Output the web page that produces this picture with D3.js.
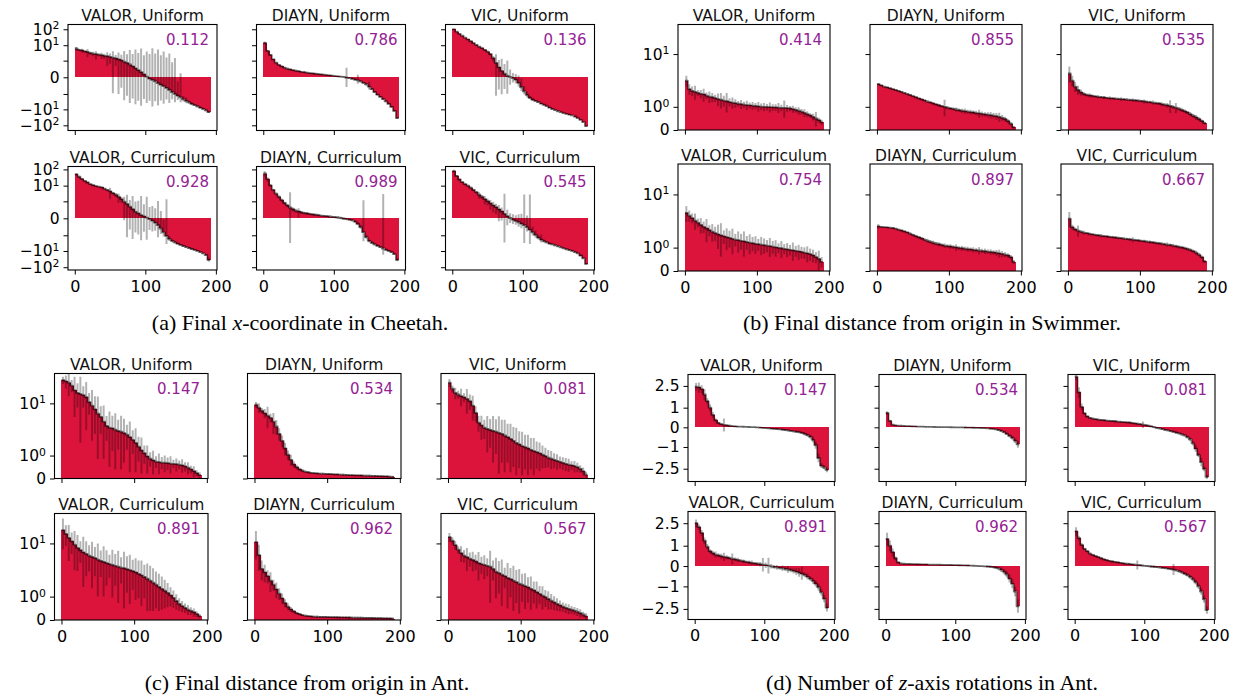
<!DOCTYPE html>
<html>
<head>
<meta charset="utf-8">
<script src="https://cdn.jsdelivr.net/npm/d3@7"></script>
<style>
  html, body { margin: 0; padding: 0; background: #fff; }
  svg { display: block; }
</style>
</head>
<body>
<svg id="fig" width="1236" height="695"></svg>
<script>
// ---------------------------------------------------------------------------
// Data: per-context outcome, sorted from largest to smallest, sampled every
// 4th context (192 contexts), with the spread across seeds for each sample.
// ---------------------------------------------------------------------------
const STEP = 4;
const sampleIndex = d3.range(0, 192, STEP);
const methods = ["VALOR", "DIAYN", "VIC"];
const regimes = ["Uniform", "Curriculum"];
const xTicks = [0, 100, 200];

// (a) Final x-coordinate in Cheetah
const cheetahValorUniform = [6.2, 5.1, 4.7, 4.1, 3.7, 3.2, 2.9, 2.7, 2.5, 2.3, 2.1, 2.0, 1.8, 1.6, 1.4, 1.2, 1.05, 0.85, 0.69, 0.53, 0.38, 0.26, 0.18, 0.11, 0.05, 0.01, -0.02, -0.045, -0.08, -0.13, -0.19, -0.26, -0.36, -0.5, -0.73, -1.0, -1.28, -1.72, -2.3, -2.9, -3.6, -4.5, -5.4, -6.5, -7.8, -9.4, -11.4, -15];
const cheetahValorUniformErr = [1.5, 0.8, 1.2, 0.6, 2.0, 0.7, 0.9, 1.5, 0.6, 1.0, 0.8, 1.6, 1.2, 2.5, 1.0, 2.2, 1.4, 3.5, 2.0, 4.5, 2.4, 5.0, 3.0, 6.0, 2.2, 4.0, 2.8, 6.5, 3.0, 5.5, 2.5, 4.2, 2.0, 3.5, 1.5, 2.5, 1.2, 1.8, 0.9, 1.2, 0.8, 1.0, 0.7, 1.2, 0.9, 1.1, 1.5, 1.8];
const cheetahDiaynUniform = [14, 4.4, 2.4, 1.2, 0.73, 0.5, 0.38, 0.3, 0.25, 0.21, 0.18, 0.16, 0.14, 0.12, 0.11, 0.095, 0.082, 0.074, 0.066, 0.058, 0.051, 0.045, 0.038, 0.032, 0.026, 0.02, 0.015, 0.01, 0.005, -0.005, -0.012, -0.023, -0.038, -0.055, -0.082, -0.12, -0.18, -0.28, -0.45, -0.73, -1.1, -1.56, -2.2, -3.1, -4.5, -7.0, -12.5, -35];
const cheetahDiaynUniformErr = [3, 0.8, 0.3, 0.15, 0.08, 0.06, 0.05, 0.04, 0.05, 0.03, 0.03, 0.04, 0.03, 0.02, 0.03, 0.02, 0.02, 0.02, 0.02, 0.02, 0.015, 0.015, 0.015, 0.01, 0.01, 0.01, 0.01, 0.01, 0.01, 0.3, 0.01, 0.015, 0.02, 0.1, 0.03, 0.03, 0.05, 0.2, 0.08, 0.1, 0.15, 0.2, 0.3, 0.4, 0.5, 0.8, 1.5, 4];
const cheetahVicUniform = [100, 71, 52, 40, 30, 23, 17.8, 13.4, 10.4, 8.2, 6.5, 5.1, 3.9, 2.7, 1.48, 0.69, 0.32, 0.15, 0.066, 0.026, 0.005, -0.012, -0.041, -0.12, -0.32, -0.66, -1.16, -1.8, -2.4, -2.9, -3.5, -4.3, -5.1, -6.2, -7.8, -9.5, -11.1, -13.1, -15, -17.3, -19.4, -21.3, -23.9, -28.1, -35.4, -45.6, -63, -112];
const cheetahVicUniformErr = [10, 5, 4, 3, 2, 2, 1.5, 1.2, 1, 0.8, 0.8, 0.6, 0.6, 0.5, 0.6, 2.0, 0.8, 1.2, 0.5, 1.0, 0.2, 0.1, 0.1, 0.15, 0.3, 0.4, 0.5, 0.4, 0.5, 0.4, 0.4, 0.3, 0.4, 0.3, 0.5, 0.5, 0.6, 0.6, 0.5, 0.6, 0.6, 0.8, 0.8, 1, 1.2, 1.5, 2, 5];
const cheetahValorCurriculum = [50, 35.4, 26.2, 19.9, 15.7, 12.5, 10.6, 9.4, 8.8, 7.8, 6.5, 5.4, 4.4, 3.4, 2.7, 2.0, 1.41, 0.97, 0.66, 0.42, 0.26, 0.16, 0.1, 0.058, 0.032, 0.01, -0.012, -0.038, -0.082, -0.163, -0.32, -0.62, -1.1, -1.72, -2.3, -2.9, -3.5, -4.2, -4.9, -5.7, -6.5, -7.5, -8.6, -9.9, -11.6, -14.0, -17.7, -35.4];
const cheetahValorCurriculumErr = [8, 5, 3, 2, 1.5, 1.2, 1, 0.8, 0.8, 0.8, 0.6, 0.8, 3, 0.6, 0.8, 1.2, 0.6, 1.0, 2.0, 0.8, 2.0, 0.8, 1.0, 2.2, 0.6, 2.0, 0.4, 0.5, 0.4, 1.2, 0.5, 0.6, 2.5, 0.6, 0.5, 0.5, 0.6, 0.6, 0.5, 0.5, 0.6, 0.6, 0.8, 0.8, 1, 1, 1.5, 10];
const cheetahDiaynCurriculum = [56, 25, 10.4, 5.5, 3.2, 2.0, 1.22, 0.77, 0.53, 0.36, 0.26, 0.2, 0.163, 0.134, 0.114, 0.1, 0.086, 0.074, 0.066, 0.058, 0.048, 0.041, 0.035, 0.029, 0.023, 0.017, 0.012, 0.005, -0.005, -0.012, -0.02, -0.032, -0.058, -0.12, -0.25, -0.61, -1.31, -2.3, -3.06, -3.9, -4.7, -5.7, -7.0, -8.4, -9.9, -11.9, -15.7, -35.4];
const cheetahDiaynCurriculumErr = [20, 8, 2, 1, 0.6, 0.4, 0.3, 0.2, 0.15, 3.5, 0.1, 0.08, 0.15, 0.05, 0.04, 0.04, 0.03, 0.03, 0.03, 0.03, 0.02, 0.02, 0.02, 0.02, 0.02, 0.02, 0.02, 0.02, 0.02, 0.02, 0.02, 0.02, 0.02, 0.05, 0.1, 1.8, 0.4, 0.5, 0.5, 0.6, 0.6, 0.8, 10, 1, 1.2, 1.5, 2, 8];
const cheetahVicCurriculum = [79, 40, 24, 16.5, 12.5, 9.9, 7.5, 5.4, 3.9, 2.7, 2.0, 1.41, 1.02, 0.73, 0.53, 0.38, 0.25, 0.163, 0.09, 0.038, 0.005, -0.02, -0.045, -0.074, -0.11, -0.163, -0.25, -0.4, -0.62, -0.95, -1.41, -1.9, -2.4, -2.9, -3.45, -3.9, -4.5, -5.1, -5.9, -6.8, -7.8, -8.8, -9.9, -11.6, -14, -19, -28, -63];
const cheetahVicCurriculumErr = [15, 6, 3, 2, 1.5, 1.5, 1.5, 1, 0.8, 1.2, 0.6, 0.8, 0.5, 0.5, 0.4, 0.3, 0.3, 0.2, 3.0, 0.2, 0.1, 0.1, 0.1, 0.15, 0.2, 3.0, 0.3, 3.2, 0.4, 0.5, 0.5, 1.0, 0.5, 0.4, 0.5, 0.5, 0.5, 0.5, 0.6, 0.6, 0.6, 0.7, 0.8, 0.8, 1, 1.2, 2, 6];
const cheetahScores = [0.112, 0.786, 0.136, 0.928, 0.989, 0.545];
const cheetahTicks = [-100, -10, -1, 0, 1, 10, 100];

// (b) Final distance from origin in Swimmer
const swimmerValorUniform = [3.6, 2.5, 2.3, 2.2, 2.1, 2.0, 1.95, 1.85, 1.75, 1.7, 1.62, 1.55, 1.5, 1.42, 1.38, 1.32, 1.28, 1.24, 1.2, 1.17, 1.14, 1.11, 1.09, 1.07, 1.05, 1.03, 1.01, 1.0, 0.99, 0.98, 0.97, 0.96, 0.95, 0.94, 0.93, 0.92, 0.9, 0.86, 0.82, 0.77, 0.72, 0.66, 0.6, 0.54, 0.47, 0.4, 0.33, 0.25];
const swimmerValorUniformErr = [0.8, 0.6, 0.5, 0.7, 0.3, 0.4, 0.6, 0.3, 0.5, 0.4, 0.3, 0.5, 0.6, 0.4, 0.7, 0.3, 0.4, 0.3, 0.2, 0.3, 0.2, 0.3, 0.2, 0.25, 0.2, 0.3, 0.2, 0.25, 0.2, 0.3, 0.2, 0.2, 0.3, 0.2, 0.5, 0.2, 0.15, 0.2, 0.15, 0.2, 0.15, 0.2, 0.15, 0.1, 0.15, 0.3, 0.1, 0.1];
const swimmerDiaynUniform = [3.1, 2.95, 2.8, 2.7, 2.6, 2.5, 2.4, 2.3, 2.2, 2.1, 2.0, 1.9, 1.8, 1.7, 1.6, 1.52, 1.44, 1.36, 1.3, 1.22, 1.16, 1.1, 1.04, 1.0, 0.95, 0.91, 0.88, 0.84, 0.8, 0.77, 0.75, 0.72, 0.7, 0.68, 0.65, 0.63, 0.61, 0.59, 0.57, 0.55, 0.53, 0.5, 0.47, 0.43, 0.38, 0.3, 0.2, 0.08];
const swimmerDiaynUniformErr = [0.15, 0.08, 0.06, 0.08, 0.06, 0.07, 0.05, 0.08, 0.06, 0.07, 0.05, 0.08, 0.06, 0.07, 0.06, 0.08, 0.06, 0.07, 0.06, 0.08, 0.07, 0.1, 0.08, 0.5, 0.1, 0.08, 0.1, 0.12, 0.1, 0.12, 0.15, 0.1, 0.12, 0.1, 0.12, 0.2, 0.12, 0.1, 0.12, 0.15, 0.12, 0.15, 0.2, 0.12, 0.1, 0.08, 0.06, 0.04];
const swimmerVicUniform = [4.8, 3.6, 2.8, 2.4, 2.15, 2.0, 1.92, 1.86, 1.82, 1.78, 1.74, 1.71, 1.68, 1.65, 1.63, 1.61, 1.59, 1.57, 1.55, 1.53, 1.51, 1.49, 1.47, 1.45, 1.42, 1.4, 1.37, 1.34, 1.31, 1.28, 1.25, 1.22, 1.18, 1.14, 1.1, 1.05, 1.0, 0.95, 0.89, 0.82, 0.75, 0.68, 0.6, 0.52, 0.45, 0.38, 0.3, 0.22];
const swimmerVicUniformErr = [1.5, 0.8, 0.6, 0.5, 0.3, 0.2, 0.15, 0.2, 0.15, 0.1, 0.15, 0.1, 0.12, 0.1, 0.15, 0.1, 0.12, 0.1, 0.15, 0.1, 0.12, 0.1, 0.15, 0.1, 0.12, 0.1, 0.15, 0.12, 0.1, 0.15, 0.12, 0.1, 0.15, 0.12, 0.15, 0.4, 0.12, 0.3, 0.1, 0.12, 0.1, 0.08, 0.1, 0.08, 0.1, 0.08, 0.06, 0.05];
const swimmerValorCurriculum = [5.0, 4.5, 4.1, 3.7, 3.4, 3.1, 2.85, 2.65, 2.45, 2.3, 2.15, 2.02, 1.92, 1.84, 1.76, 1.7, 1.63, 1.57, 1.52, 1.47, 1.42, 1.37, 1.33, 1.29, 1.25, 1.22, 1.19, 1.16, 1.13, 1.1, 1.06, 1.02, 0.99, 0.96, 0.93, 0.9, 0.87, 0.84, 0.81, 0.78, 0.75, 0.72, 0.68, 0.64, 0.58, 0.5, 0.42, 0.3];
const swimmerValorCurriculumErr = [1.5, 1.0, 0.8, 1.2, 0.6, 1.0, 0.7, 1.3, 0.6, 0.9, 0.7, 1.1, 1.4, 0.6, 0.9, 0.7, 1.0, 0.5, 0.8, 0.6, 0.9, 0.5, 0.7, 0.5, 0.6, 0.4, 0.6, 0.5, 0.4, 0.6, 0.4, 0.5, 0.3, 0.5, 0.3, 0.4, 0.3, 0.5, 0.3, 0.4, 0.3, 0.3, 0.4, 0.3, 0.3, 0.25, 0.4, 0.2];
const swimmerDiaynCurriculum = [2.9, 2.85, 2.8, 2.78, 2.74, 2.7, 2.62, 2.52, 2.42, 2.32, 2.22, 2.1, 1.98, 1.86, 1.76, 1.66, 1.57, 1.48, 1.4, 1.33, 1.27, 1.22, 1.17, 1.13, 1.1, 1.07, 1.04, 1.01, 0.98, 0.96, 0.94, 0.91, 0.89, 0.87, 0.85, 0.83, 0.81, 0.79, 0.77, 0.75, 0.73, 0.71, 0.68, 0.65, 0.62, 0.58, 0.5, 0.3];
const swimmerDiaynCurriculumErr = [0.3, 0.08, 0.06, 0.08, 0.06, 0.08, 0.07, 0.1, 0.08, 0.1, 0.08, 0.12, 0.1, 0.12, 0.1, 0.12, 0.1, 0.15, 0.12, 0.15, 0.12, 0.15, 0.12, 0.15, 0.12, 0.15, 0.12, 0.2, 0.12, 0.15, 0.12, 0.15, 0.12, 0.15, 0.12, 0.2, 0.12, 0.15, 0.12, 0.15, 0.12, 0.15, 0.2, 0.15, 0.12, 0.1, 0.1, 0.08];
const swimmerVicCurriculum = [4.0, 2.8, 2.55, 2.4, 2.3, 2.2, 2.14, 2.08, 2.03, 1.98, 1.94, 1.9, 1.86, 1.83, 1.8, 1.77, 1.74, 1.71, 1.68, 1.65, 1.62, 1.59, 1.56, 1.53, 1.5, 1.47, 1.44, 1.41, 1.38, 1.35, 1.32, 1.29, 1.26, 1.23, 1.2, 1.17, 1.13, 1.09, 1.05, 1.01, 0.97, 0.92, 0.87, 0.8, 0.72, 0.62, 0.5, 0.32];
const swimmerVicCurriculumErr = [1.2, 0.3, 0.2, 0.6, 0.15, 0.2, 0.1, 0.15, 0.1, 0.12, 0.1, 0.15, 0.1, 0.12, 0.1, 0.12, 0.1, 0.12, 0.1, 0.12, 0.1, 0.12, 0.2, 0.1, 0.12, 0.1, 0.12, 0.1, 0.12, 0.1, 0.12, 0.1, 0.12, 0.1, 0.15, 0.1, 0.12, 0.1, 0.12, 0.1, 0.1, 0.1, 0.1, 0.08, 0.1, 0.08, 0.08, 0.06];
const swimmerScores = [0.414, 0.855, 0.535, 0.754, 0.897, 0.667];
const distanceTicks = [0, 1, 10];

// (c) Final distance from origin in Ant
const antDistValorUniform = [23, 22, 21, 19, 16, 14.6, 14, 13.5, 12.5, 10.5, 9.2, 8.0, 6.8, 6.0, 5.0, 4.2, 3.9, 3.8, 3.6, 3.4, 3.3, 3.1, 2.9, 2.6, 2.3, 2.0, 1.65, 1.35, 1.15, 0.95, 0.82, 0.72, 0.66, 0.63, 0.61, 0.6, 0.58, 0.56, 0.55, 0.53, 0.51, 0.48, 0.43, 0.38, 0.31, 0.24, 0.17, 0.1];
const antDistValorUniformErr = [3, 5, 8, 4, 10, 6, 12, 5, 9, 4, 7, 5, 6, 3, 4.2, 2, 3.5, 2.5, 3.3, 2, 3, 2.5, 1.5, 2.4, 1.2, 1.8, 1, 1.2, 0.6, 0.8, 0.4, 0.6, 0.3, 0.5, 0.3, 0.4, 0.3, 0.4, 0.2, 0.3, 0.2, 0.3, 0.2, 0.25, 0.15, 0.2, 0.1, 0.1];
const antDistDiaynUniform = [9.5, 8.5, 7.6, 6.9, 6.3, 5.8, 5.0, 4.1, 3.0, 2.2, 1.5, 1.05, 0.75, 0.52, 0.4, 0.31, 0.26, 0.22, 0.2, 0.18, 0.17, 0.16, 0.155, 0.15, 0.145, 0.14, 0.135, 0.13, 0.125, 0.12, 0.115, 0.11, 0.105, 0.1, 0.098, 0.095, 0.092, 0.09, 0.087, 0.084, 0.08, 0.077, 0.074, 0.07, 0.066, 0.062, 0.057, 0.05];
const antDistDiaynUniformErr = [1.0, 1.5, 0.8, 1.2, 2.5, 1.0, 2.0, 1.2, 0.8, 0.6, 0.5, 0.3, 0.3, 0.15, 0.1, 0.06, 0.05, 0.04, 0.04, 0.03, 0.03, 0.03, 0.03, 0.03, 0.03, 0.03, 0.03, 0.03, 0.03, 0.03, 0.03, 0.03, 0.03, 0.03, 0.03, 0.03, 0.03, 0.03, 0.03, 0.03, 0.03, 0.03, 0.03, 0.03, 0.03, 0.03, 0.03, 0.03];
const antDistVicUniform = [21, 17, 14.6, 13.8, 13, 12.4, 11.8, 10.8, 9.2, 7, 4.8, 4.3, 3.9, 3.7, 3.55, 3.4, 3.3, 3.15, 3.0, 2.8, 2.6, 2.4, 2.2, 2.0, 1.85, 1.7, 1.6, 1.5, 1.4, 1.3, 1.23, 1.14, 1.05, 0.96, 0.88, 0.81, 0.75, 0.69, 0.64, 0.59, 0.55, 0.51, 0.48, 0.44, 0.4, 0.33, 0.23, 0.12];
const antDistVicUniformErr = [3, 2, 3, 2, 4, 2, 5, 3, 4, 2, 1.5, 2, 1.5, 2.5, 2.0, 2.8, 2.2, 3.0, 2.4, 2.6, 2.0, 2.2, 1.8, 1.9, 1.5, 1.6, 1.3, 1.4, 1.1, 1.2, 0.9, 0.9, 0.7, 0.6, 0.5, 0.5, 0.4, 0.4, 0.3, 0.3, 0.3, 0.3, 0.2, 0.25, 0.2, 0.15, 0.15, 0.1];
const antDistValorCurriculum = [16, 14, 12.2, 10.8, 9.6, 8.5, 7.8, 7.2, 6.8, 6.4, 6.1, 5.8, 5.5, 5.2, 5.0, 4.8, 4.6, 4.45, 4.3, 4.15, 4.0, 3.9, 3.75, 3.6, 3.45, 3.3, 3.1, 2.9, 2.7, 2.5, 2.3, 2.1, 1.9, 1.7, 1.55, 1.4, 1.25, 1.08, 0.92, 0.75, 0.6, 0.5, 0.42, 0.35, 0.3, 0.25, 0.19, 0.12];
const antDistValorCurriculumErr = [8, 5, 7, 4, 6, 5, 3, 5.5, 4, 3, 4.5, 3, 4.5, 2.5, 4, 3, 2, 3.5, 2.5, 3.5, 2, 3.5, 2.5, 3, 2, 2.5, 2.2, 2.4, 1.8, 2.2, 2, 1.8, 1.5, 1.4, 1.2, 1.0, 0.8, 0.6, 0.5, 0.4, 0.3, 0.25, 0.2, 0.2, 0.15, 0.15, 0.1, 0.08];
const antDistDiaynCurriculum = [10.5, 6.5, 3.8, 3.3, 2.8, 2.3, 1.9, 1.5, 1.2, 0.9, 0.65, 0.48, 0.36, 0.28, 0.22, 0.18, 0.15, 0.13, 0.12, 0.11, 0.1, 0.097, 0.094, 0.092, 0.09, 0.088, 0.086, 0.084, 0.082, 0.08, 0.078, 0.076, 0.074, 0.072, 0.07, 0.068, 0.066, 0.064, 0.062, 0.06, 0.058, 0.056, 0.054, 0.052, 0.05, 0.048, 0.045, 0.04];
const antDistDiaynCurriculumErr = [5, 3, 1.5, 1.2, 0.8, 1.0, 0.5, 0.6, 0.4, 0.3, 0.2, 0.15, 0.1, 0.06, 0.05, 0.04, 0.03, 0.03, 0.03, 0.03, 0.03, 0.03, 0.03, 0.03, 0.03, 0.03, 0.03, 0.03, 0.03, 0.03, 0.03, 0.03, 0.03, 0.03, 0.03, 0.03, 0.03, 0.03, 0.03, 0.03, 0.03, 0.03, 0.03, 0.03, 0.03, 0.03, 0.03, 0.03];
const antDistVicCurriculum = [12.5, 11, 9.4, 8.0, 7.0, 6.4, 6.0, 5.7, 5.4, 5.1, 4.8, 4.6, 4.45, 4.3, 4.15, 3.8, 3.4, 3.2, 3.0, 2.8, 2.6, 2.45, 2.3, 2.15, 2.0, 1.9, 1.78, 1.66, 1.55, 1.42, 1.3, 1.18, 1.06, 0.96, 0.86, 0.77, 0.68, 0.6, 0.53, 0.47, 0.42, 0.38, 0.35, 0.31, 0.27, 0.22, 0.17, 0.11];
const antDistVicCurriculumErr = [2, 1.5, 1.5, 1, 2, 1.5, 2.5, 1.5, 2, 1.5, 2.5, 1.5, 2, 1.5, 3.5, 1.5, 2.5, 2, 2.5, 1.2, 2.2, 1.5, 2, 1.5, 1.8, 1.2, 1.4, 1.0, 1.2, 0.8, 0.9, 0.6, 0.7, 0.5, 0.5, 0.4, 0.35, 0.3, 0.25, 0.2, 0.2, 0.2, 0.15, 0.15, 0.15, 0.15, 0.1, 0.1];
const antDistScores = [0.147, 0.534, 0.081, 0.891, 0.962, 0.567];

// (d) Number of z-axis rotations in Ant
const antRotValorUniform = [2.45, 2.38, 2.25, 1.85, 1.4, 1.0, 0.6, 0.33, 0.2, 0.14, 0.11, 0.09, 0.07, 0.055, 0.045, 0.035, 0.03, 0.025, 0.02, 0.015, 0.01, 0.005, -0.005, -0.015, -0.025, -0.035, -0.045, -0.055, -0.065, -0.075, -0.09, -0.1, -0.12, -0.14, -0.16, -0.18, -0.2, -0.22, -0.25, -0.3, -0.36, -0.44, -0.6, -0.9, -1.7, -2.25, -2.4, -2.6];
const antRotValorUniformErr = [0.3, 0.4, 0.3, 0.4, 0.2, 0.2, 0.15, 0.1, 0.05, 0.05, 0.3, 0.05, 0.04, 0.03, 0.03, 0.03, 0.02, 0.02, 0.02, 0.02, 0.02, 0.02, 0.02, 0.02, 0.03, 0.02, 0.03, 0.02, 0.03, 0.03, 0.03, 0.04, 0.04, 0.05, 0.04, 0.05, 0.05, 0.06, 0.06, 0.08, 0.08, 0.1, 0.15, 0.2, 0.3, 0.2, 0.15, 0.2];
const antRotDiaynUniform = [0.7, 0.3, 0.12, 0.09, 0.08, 0.07, 0.06, 0.055, 0.05, 0.045, 0.04, 0.035, 0.03, 0.027, 0.024, 0.021, 0.018, 0.015, 0.013, 0.011, 0.009, 0.007, 0.005, 0.003, 0.001, -0.001, -0.003, -0.005, -0.008, -0.011, -0.014, -0.018, -0.022, -0.027, -0.032, -0.038, -0.045, -0.055, -0.07, -0.09, -0.12, -0.16, -0.22, -0.3, -0.4, -0.5, -0.65, -0.85];
const antRotDiaynUniformErr = [0.1, 0.05, 0.03, 0.02, 0.02, 0.02, 0.02, 0.02, 0.02, 0.02, 0.02, 0.02, 0.02, 0.02, 0.02, 0.02, 0.02, 0.02, 0.02, 0.02, 0.02, 0.02, 0.02, 0.02, 0.02, 0.02, 0.02, 0.02, 0.02, 0.02, 0.02, 0.02, 0.02, 0.02, 0.02, 0.02, 0.02, 0.03, 0.03, 0.03, 0.04, 0.05, 0.05, 0.06, 0.08, 0.1, 0.12, 0.2];
const antRotVicUniform = [3.3, 2.0, 1.05, 0.68, 0.52, 0.45, 0.41, 0.38, 0.36, 0.34, 0.33, 0.31, 0.3, 0.29, 0.28, 0.26, 0.25, 0.24, 0.23, 0.22, 0.2, 0.18, 0.16, 0.14, 0.12, 0.1, 0.07, 0.04, 0.01, -0.02, -0.05, -0.08, -0.11, -0.14, -0.17, -0.2, -0.24, -0.28, -0.33, -0.38, -0.46, -0.58, -0.8, -1.1, -1.5, -2.0, -2.5, -3.2];
const antRotVicUniformErr = [0.3, 0.4, 0.2, 0.06, 0.05, 0.04, 0.05, 0.04, 0.05, 0.04, 0.05, 0.04, 0.05, 0.04, 0.05, 0.04, 0.05, 0.04, 0.05, 0.04, 0.05, 0.04, 0.05, 0.04, 0.15, 0.04, 0.05, 0.04, 0.05, 0.04, 0.05, 0.04, 0.05, 0.04, 0.05, 0.05, 0.06, 0.05, 0.06, 0.06, 0.08, 0.1, 0.12, 0.2, 0.15, 0.3, 0.2, 0.2];
const antRotValorCurriculum = [2.5, 2.2, 1.8, 1.3, 0.95, 0.7, 0.6, 0.53, 0.49, 0.45, 0.42, 0.39, 0.36, 0.33, 0.3, 0.27, 0.24, 0.21, 0.18, 0.16, 0.14, 0.12, 0.1, 0.08, 0.06, 0.04, 0.02, -0.01, -0.04, -0.06, -0.08, -0.1, -0.12, -0.15, -0.18, -0.21, -0.25, -0.29, -0.34, -0.4, -0.48, -0.58, -0.7, -0.85, -1.05, -1.35, -1.75, -2.4];
const antRotValorCurriculumErr = [0.3, 0.2, 0.2, 0.2, 0.15, 0.1, 0.12, 0.15, 0.1, 0.12, 0.2, 0.1, 0.08, 0.25, 0.08, 0.1, 0.06, 0.08, 0.06, 0.08, 0.1, 0.06, 0.08, 0.1, 0.3, 0.12, 0.35, 0.1, 0.08, 0.1, 0.08, 0.12, 0.1, 0.15, 0.1, 0.12, 0.15, 0.2, 0.3, 0.12, 0.15, 0.12, 0.15, 0.15, 0.2, 0.2, 0.25, 0.3];
const antRotDiaynCurriculum = [1.4, 1.0, 0.65, 0.35, 0.16, 0.11, 0.1, 0.095, 0.09, 0.085, 0.08, 0.077, 0.074, 0.071, 0.068, 0.065, 0.062, 0.06, 0.057, 0.055, 0.052, 0.05, 0.047, 0.044, 0.041, 0.038, 0.035, 0.032, 0.028, 0.024, 0.018, 0.012, 0.006, 0.0, -0.006, -0.012, -0.02, -0.03, -0.045, -0.07, -0.1, -0.16, -0.25, -0.38, -0.58, -0.85, -1.3, -2.3];
const antRotDiaynCurriculumErr = [0.4, 0.3, 0.2, 0.1, 0.04, 0.02, 0.02, 0.02, 0.02, 0.02, 0.02, 0.02, 0.02, 0.02, 0.02, 0.02, 0.02, 0.02, 0.02, 0.02, 0.02, 0.02, 0.02, 0.02, 0.02, 0.02, 0.02, 0.02, 0.02, 0.02, 0.02, 0.02, 0.02, 0.02, 0.02, 0.02, 0.03, 0.04, 0.05, 0.06, 0.08, 0.1, 0.12, 0.15, 0.2, 0.25, 0.3, 0.5];
const antRotVicCurriculum = [1.9, 1.45, 1.05, 0.83, 0.7, 0.58, 0.51, 0.45, 0.4, 0.35, 0.3, 0.26, 0.23, 0.2, 0.18, 0.16, 0.14, 0.12, 0.1, 0.09, 0.07, 0.06, 0.05, 0.035, 0.02, 0.01, -0.005, -0.02, -0.03, -0.045, -0.06, -0.075, -0.09, -0.11, -0.13, -0.16, -0.19, -0.23, -0.28, -0.34, -0.41, -0.5, -0.62, -0.78, -1.0, -1.3, -1.8, -2.6];
const antRotVicCurriculumErr = [0.3, 0.15, 0.1, 0.06, 0.05, 0.05, 0.04, 0.05, 0.04, 0.05, 0.04, 0.05, 0.04, 0.05, 0.04, 0.05, 0.04, 0.05, 0.04, 0.05, 0.04, 0.05, 0.2, 0.04, 0.05, 0.04, 0.05, 0.04, 0.05, 0.04, 0.05, 0.04, 0.05, 0.04, 0.05, 0.25, 0.05, 0.06, 0.06, 0.08, 0.08, 0.1, 0.1, 0.12, 0.15, 0.2, 0.25, 0.3];
const antRotScores = [0.147, 0.534, 0.081, 0.891, 0.962, 0.567];
const rotationTicks = [-2.5, -1, 0, 1, 2.5];

// ---------------------------------------------------------------------------
// Layout of the four sub-figures (panel boxes in pixels) and their y scales.
// ---------------------------------------------------------------------------
const subfigures = [
  {
    caption: ["(a) Final ", "x", "-coordinate in Cheetah."], capX: 300, capY: 330,
    lefts: [68, 256.5, 445.5], width: 149, rows: [[24.5, 130.5], [166.5, 270]],
    symlogConstant: 0.1, yDomains: [[-211, 199], [-148, 151]], yTicks: cheetahTicks, labelKind: "signedPow",
    series: [[cheetahValorUniform, cheetahValorUniformErr], [cheetahDiaynUniform, cheetahDiaynUniformErr], [cheetahVicUniform, cheetahVicUniformErr],
             [cheetahValorCurriculum, cheetahValorCurriculumErr], [cheetahDiaynCurriculum, cheetahDiaynCurriculumErr], [cheetahVicCurriculum, cheetahVicCurriculumErr]],
    scores: cheetahScores
  },
  {
    caption: ["(b) Final distance from origin in Swimmer."], capX: 932, capY: 330,
    lefts: [678, 870, 1061], width: 152, rows: [[24.5, 130], [164, 271]],
    symlogConstant: 0.85, yDomains: [[0, 28.4], [0, 29]], yTicks: distanceTicks, labelKind: "pow",
    series: [[swimmerValorUniform, swimmerValorUniformErr], [swimmerDiaynUniform, swimmerDiaynUniformErr], [swimmerVicUniform, swimmerVicUniformErr],
             [swimmerValorCurriculum, swimmerValorCurriculumErr], [swimmerDiaynCurriculum, swimmerDiaynCurriculumErr], [swimmerVicCurriculum, swimmerVicCurriculumErr]],
    scores: swimmerScores
  },
  {
    caption: ["(c) Final distance from origin in Ant."], capX: 307, capY: 690,
    lefts: [54.5, 247.5, 441], width: 153.5, rows: [[373.5, 478.5], [513.5, 620]],
    symlogConstant: 0.85, yDomains: [[0, 29], [0, 28.5]], yTicks: distanceTicks, labelKind: "pow",
    series: [[antDistValorUniform, antDistValorUniformErr], [antDistDiaynUniform, antDistDiaynUniformErr], [antDistVicUniform, antDistVicUniformErr],
             [antDistValorCurriculum, antDistValorCurriculumErr], [antDistDiaynCurriculum, antDistDiaynCurriculumErr], [antDistVicCurriculum, antDistVicCurriculumErr]],
    scores: antDistScores
  },
  {
    caption: ["(d) Number of ", "z", "-axis rotations in Ant."], capX: 932, capY: 690,
    lefts: [688, 879, 1068], width: 147, rows: [[374.5, 481.5], [511.5, 619.5]],
    symlogConstant: 3, yDomains: [[-3.63, 3.5], [-3.39, 3.49]], yTicks: rotationTicks, labelKind: "plain",
    series: [[antRotValorUniform, antRotValorUniformErr], [antRotDiaynUniform, antRotDiaynUniformErr], [antRotVicUniform, antRotVicUniformErr],
             [antRotValorCurriculum, antRotValorCurriculumErr], [antRotDiaynCurriculum, antRotDiaynCurriculumErr], [antRotVicCurriculum, antRotVicCurriculumErr]],
    scores: antRotScores
  }
];

const X_DOMAIN = [-9.6, 201.6];
const SANS = "'DejaVu Sans', sans-serif";
const SERIF = "'Liberation Serif', 'DejaVu Serif', serif";
const BAR_RED = "#dc143c";
const SCORE_PURPLE = "#942194";

const svg = d3.select("#fig");
let clipCounter = 0;

// Write a tick label, with a superscript exponent where needed.
function writeLabel(textSel, value, kind) {
  textSel.text(null);
  const minus = "\u2212";
  if (kind === "plain") {
    textSel.text(value < 0 ? minus + Math.abs(value) : String(value));
    return;
  }
  if (value === 0) { textSel.text("0"); return; }
  const a = Math.abs(value);
  const exp = Math.round(Math.log10(a));
  if (kind === "signedPow" && a === 1) return; // 10^0 carries a bare tick
  textSel.append("tspan").text((value < 0 ? minus : "") + "10");
  textSel.append("tspan").attr("dy", "-0.5em").attr("font-size", "0.7em").text(String(exp));
}

subfigures.forEach(sf => {
  sf.series.forEach((pair, k) => {
    const col = k % 3, row = Math.floor(k / 3);
    const [values, errors] = pair;
    const x0 = sf.lefts[col], x1 = x0 + sf.width;
    const [yTop, yBot] = sf.rows[row];

    const x = d3.scaleLinear().domain(X_DOMAIN).range([x0, x1]);
    const y = d3.scaleSymlog().constant(sf.symlogConstant).domain(sf.yDomains[row]).range([yBot, yTop]);

    const g = svg.append("g");
    const clipId = "clip" + (clipCounter++);
    g.append("clipPath").attr("id", clipId)
      .append("rect").attr("x", x0).attr("y", yTop).attr("width", x1 - x0).attr("height", yBot - yTop);

    const plot = g.append("g").attr("clip-path", `url(#${clipId})`);
    const rows = sampleIndex.map((s, j) => ({ s: s, v: values[j], e: errors[j] }));

    // bars from zero
    plot.append("g").attr("shape-rendering", "crispEdges")
      .selectAll("rect").data(rows).join("rect")
      .attr("x", d => x(d.s))
      .attr("width", d => x(d.s + STEP) - x(d.s) + 0.6)
      .attr("y", d => Math.min(y(d.v), y(0)))
      .attr("height", d => Math.abs(y(d.v) - y(0)))
      .attr("fill", BAR_RED);

    // spread across seeds
    plot.append("g").selectAll("line").data(rows).join("line")
      .attr("x1", d => x(d.s + STEP / 2)).attr("x2", d => x(d.s + STEP / 2))
      .attr("y1", d => y(d.v - d.e)).attr("y2", d => y(d.v + d.e))
      .attr("stroke", "#000").attr("stroke-opacity", 0.3).attr("stroke-width", 2);

    // outline along the bar tops
    const edge = d3.line().curve(d3.curveStepAfter).x(d => x(d.s)).y(d => y(d.v));
    plot.append("path")
      .datum(rows.concat([{ s: 192, v: values[values.length - 1] }]))
      .attr("d", edge).attr("fill", "none")
      .attr("stroke", "#000").attr("stroke-opacity", 0.55).attr("stroke-width", 1.8)
      .attr("stroke-linejoin", "round");

    // y axis
    const yAxis = g.append("g").attr("transform", `translate(${x0},0)`)
      .call(d3.axisLeft(y).tickValues(sf.yTicks).tickSize(4.5).tickPadding(4).tickFormat(""));
    yAxis.select(".domain").remove();
    yAxis.selectAll(".tick line").attr("stroke", "#000").attr("stroke-width", 1);
    if (col === 0) {
      yAxis.selectAll(".tick text").each(function (d) { writeLabel(d3.select(this), d, sf.labelKind); })
        .attr("font-family", SANS).attr("font-size", 15.5).attr("fill", "#000");
    }

    // x axis
    const xAxis = g.append("g").attr("transform", `translate(0,${yBot})`)
      .call(d3.axisBottom(x).tickValues(xTicks).tickSize(4.5).tickPadding(6)
        .tickFormat(row === 1 ? d3.format("d") : ""));
    xAxis.select(".domain").remove();
    xAxis.selectAll(".tick line").attr("stroke", "#000").attr("stroke-width", 1);
    xAxis.selectAll(".tick text").attr("font-family", SANS).attr("font-size", 16).attr("fill", "#000");

    // frame
    g.append("rect").attr("x", x0).attr("y", yTop).attr("width", x1 - x0).attr("height", yBot - yTop)
      .attr("fill", "none").attr("stroke", "#000").attr("stroke-width", 1.1);

    // title and score
    g.append("text").attr("x", (x0 + x1) / 2).attr("y", yTop - 3.5)
      .attr("text-anchor", "middle").attr("font-family", SANS).attr("font-size", 15.5).attr("fill", "#111")
      .text(`${methods[col]}, ${regimes[row]}`);
    g.append("text").attr("x", x1 - 8).attr("y", yTop + 20.5)
      .attr("text-anchor", "end").attr("font-family", SANS).attr("font-size", 15).attr("fill", SCORE_PURPLE)
      .text(sf.scores[k].toFixed(3));
  });

  // caption
  const cap = svg.append("text").attr("x", sf.capX).attr("y", sf.capY)
    .attr("text-anchor", "middle").attr("font-family", SERIF).attr("font-size", 22).attr("fill", "#000");
  sf.caption.forEach((part, i) => {
    cap.append("tspan").attr("font-style", i === 1 ? "italic" : "normal").text(part);
  });
});
</script>
</body>
</html>
